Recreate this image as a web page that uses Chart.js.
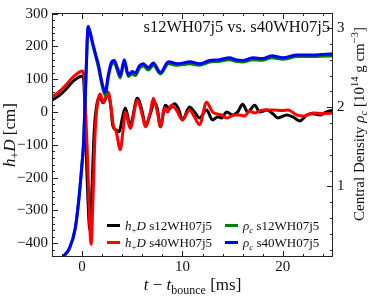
<!DOCTYPE html>
<html><head><meta charset="utf-8">
<script src="https://cdn.jsdelivr.net/npm/chart.js@4.4.1/dist/chart.umd.min.js"></script>
<style>html,body{margin:0;padding:0;background:#fff;overflow:hidden}</style>
</head><body>
<canvas id="c" width="374" height="299"></canvas>
<script>
// ---- data ----
const xTicks = [0, 10, 20];
const leftTicks = [-400, -300, -200, -100, 0, 100, 200, 300];
const rightTicks = [1, 2, 3];

const tBlack = [-3,-2.5,-2,-1.5,-1,-0.5,0,0.15,0.3,0.5,0.77,1.0,1.2,1.45,1.75,2.1,2.6,2.85,3.05,3.4,3.7,4.0,4.3,4.8,5.5,6.0,6.3,6.8,7.2,7.5,7.8,8.3,8.7,9.2,9.6,10.0,10.7,11.2,11.7,12.4,13.0,13.5,13.9,14.4,15.0,15.5,16.0,16.5,17.2,17.7,18.4,19.0,19.5,20.4,21.0,21.7,22.4,23.0,23.7,24.3,25];
const hS12   = [36,46,58,73,91,103,110,100,-10,-200,-358,-220,-60,20,45,28,55,20,-40,-55,-60,-20,12,-40,42,0,-42,-5,28,10,-45,21,10,25,10,-24,15,0,-18,6,-24,-15,-18,0,-9,0,24,0,21,0,6,-5,-18,-9,-15,-27,-9,-5,-9,0,6];

const tRed = [-3,-2.5,-2,-1.5,-1,-0.5,0,0.15,0.3,0.5,0.9,1.1,1.3,1.55,1.8,2.1,2.6,2.9,3.1,3.4,3.8,4.1,4.3,4.8,5.5,6.0,6.3,6.8,7.1,7.5,7.8,8.2,8.5,8.9,9.4,10.0,10.7,11.2,11.7,12.4,13.0,13.5,13.9,14.4,15.2,15.7,16.2,16.7,17.2,18.0,19.0,20.0,20.5,21.4,22.0,23.0,24.0,25];
const hS40 = [46,57,70,86,104,117,125,118,40,-110,-403,-250,-60,30,55,30,60,10,-40,-60,-115,-50,0,-50,36,-10,-45,0,42,0,-45,12,0,21,6,-24,6,-15,-39,30,0,-6,-9,-18,-9,-9,-12,3,-3,6,6,5,6,-9,-12,-3,-5,-3];

const tBlue = [-3,-2.6,-2.2,-1.8,-1.3,-0.7,-0.3,0,0.15,0.4,0.6,0.8,1.0,1.3,1.6,2.0,2.3,2.6,2.9,3.2,3.5,3.8,4.2,4.6,5.0,5.3,5.7,6.1,6.6,7.1,7.8,8.6,9.5,10.1,10.7,11.7,12.7,13.7,14.7,15.3,16,17,18,18.9,20,21.4,23,25];
const rhoS40 = [-0.1,-0.05,0.03,0.125,0.21,0.46,0.87,1.3,1.56,2.45,3.02,2.95,2.84,2.69,2.55,2.3,2.19,2.4,2.56,2.59,2.5,2.4,2.6,2.41,2.45,2.43,2.52,2.55,2.5,2.56,2.44,2.575,2.55,2.56,2.575,2.55,2.59,2.6,2.625,2.6,2.59,2.625,2.615,2.65,2.625,2.66,2.66,2.675];

const tGreen = tBlue;
const rhoS12 = [-0.1,-0.05,0.03,0.125,0.21,0.46,0.87,1.3,1.56,2.44,3.0,2.93,2.82,2.67,2.52,2.27,2.15,2.37,2.53,2.56,2.47,2.37,2.57,2.39,2.42,2.40,2.49,2.52,2.47,2.53,2.42,2.55,2.53,2.54,2.55,2.53,2.57,2.58,2.60,2.58,2.57,2.60,2.595,2.625,2.605,2.64,2.64,2.65];

// ---- helpers ----
const fam = "'Liberation Serif','Times New Roman',serif";
const pts = (ts, vs) => ts.map((t, i) => ({x: t, y: vs[i]}));
const fmt = v => (v < 0 ? '\u2212' + Math.abs(v) : String(v));

function drawRich(ctx, parts, x, y, align) {
  const f = p => (p.i ? 'italic ' : '') + p.s + 'px ' + fam;
  let w = 0;
  for (const p of parts) { ctx.font = f(p); w += ctx.measureText(p.t).width; }
  let cx = align === 'center' ? x - w / 2 : align === 'right' ? x - w : x;
  for (const p of parts) {
    ctx.font = f(p);
    ctx.fillText(p.t, cx, y + (p.dy || 0));
    cx += ctx.measureText(p.t).width;
  }
}

const decor = {
  id: 'decor',
  afterDraw(chart) {
    const {ctx, chartArea: a, scales} = chart;
    const sx = scales.x, yl = scales.yL, yr = scales.yR;
    ctx.save();
    ctx.strokeStyle = '#222'; ctx.lineWidth = 1;
    ctx.strokeRect(a.left + 0.5, a.top + 0.5, a.right - a.left - 1, a.bottom - a.top - 1);
    ctx.beginPath();
    const maj = 6, mn = 3;
    for (let v = -2; v <= 24; v += 2) {
      const p = Math.round(sx.getPixelForValue(v)) + 0.5;
      const L = (v % 10 === 0) ? maj : mn;
      ctx.moveTo(p, a.bottom); ctx.lineTo(p, a.bottom - L);
      ctx.moveTo(p, a.top); ctx.lineTo(p, a.top + L);
    }
    for (let v = -440; v <= 300; v += 20) {
      const p = Math.round(yl.getPixelForValue(v)) + 0.5;
      const L = (v % 100 === 0) ? maj : mn;
      ctx.moveTo(a.left, p); ctx.lineTo(a.left + L, p);
    }
    for (let k = 1; k <= 15; k++) {
      const v = k * 0.2;
      const p = Math.round(yr.getPixelForValue(v)) + 0.5;
      const L = (k % 5 === 0) ? maj : mn;
      ctx.moveTo(a.right, p); ctx.lineTo(a.right - L, p);
    }
    ctx.stroke();

    ctx.fillStyle = '#111';
    ctx.textBaseline = 'alphabetic';
    drawRich(ctx, [{t: 's12WH07j5 vs. s40WH07j5', s: 16.5}], a.right - 3, 32, 'right');
    drawRich(ctx, [
      {t: 't', s: 17, i: 1}, {t: ' \u2212 ', s: 17}, {t: 't', s: 17, i: 1},
      {t: 'bounce', s: 12, dy: 4}, {t: ' [ms]', s: 17}
    ], (a.left + a.right) / 2, 290, 'center');
    ctx.save();
    ctx.translate(15, (a.top + a.bottom) / 2);
    ctx.rotate(-Math.PI / 2);
    drawRich(ctx, [
      {t: 'h', s: 17, i: 1}, {t: '+', s: 12, dy: 4}, {t: 'D', s: 17, i: 1}, {t: ' [cm]', s: 17}
    ], 0, 0, 'center');
    ctx.restore();
    ctx.save();
    ctx.translate(364, 124);
    ctx.rotate(-Math.PI / 2);
    drawRich(ctx, [
      {t: 'Central Density ', s: 15}, {t: '\u03c1', s: 15, i: 1}, {t: 'c', s: 10.5, i: 1, dy: 3},
      {t: ' [10', s: 15}, {t: '14', s: 10.5, dy: -6}, {t: ' g cm', s: 15}, {t: '\u22123', s: 10.5, dy: -6}, {t: ']', s: 15}
    ], 0, 0, 'center');
    ctx.restore();
    const rows = [225.5, 242.5];
    const items = [
      {c: '#000000', x: 107, row: 0, parts: [{t: 'h', s: 13, i: 1}, {t: '+', s: 9, dy: 3}, {t: 'D', s: 13, i: 1}, {t: ' s12WH07j5', s: 13}]},
      {c: '#ff0000', x: 107, row: 1, parts: [{t: 'h', s: 13, i: 1}, {t: '+', s: 9, dy: 3}, {t: 'D', s: 13, i: 1}, {t: ' s40WH07j5', s: 13}]},
      {c: '#008000', x: 225, row: 0, parts: [{t: '\u03c1', s: 13, i: 1}, {t: 'c', s: 9, i: 1, dy: 3}, {t: ' s12WH07j5', s: 13}]},
      {c: '#0000ff', x: 225, row: 1, parts: [{t: '\u03c1', s: 13, i: 1}, {t: 'c', s: 9, i: 1, dy: 3}, {t: ' s40WH07j5', s: 13}]}
    ];
    for (const it of items) {
      const y = rows[it.row];
      ctx.strokeStyle = it.c; ctx.lineWidth = 3;
      ctx.beginPath(); ctx.moveTo(it.x, y); ctx.lineTo(it.x + 13, y); ctx.stroke();
      ctx.fillStyle = '#111';
      drawRich(ctx, it.parts, it.x + 18, y + 4.5, 'left');
    }
    ctx.restore();
  }
};

const tickFont = {family: fam, size: 15};
new Chart(document.getElementById('c'), {
  type: 'line',
  data: {datasets: [
    {data: pts(tBlue, rhoS40), yAxisID: 'yR', borderColor: '#0000ff'},
    {data: pts(tGreen, rhoS12), yAxisID: 'yR', borderColor: '#008000'},
    {data: pts(tRed, hS40), yAxisID: 'yL', borderColor: '#ff0000'},
    {data: pts(tBlack, hS12), yAxisID: 'yL', borderColor: '#000000'}
  ]},
  options: {
    responsive: false, animation: false, events: [],
    layout: {padding: {top: 12, left: 0, right: 0, bottom: 0}},
    datasets: {line: {clip: 0}},
    elements: {point: {radius: 0}, line: {borderWidth: 3, cubicInterpolationMode: 'monotone', fill: false, borderJoinStyle: 'round', borderCapStyle: 'round'}},
    plugins: {legend: {display: false}, tooltip: {enabled: false}},
    scales: {
      x: {type: 'linear', min: -3, max: 25,
        afterBuildTicks: s => { s.ticks = xTicks.map(v => ({value: v})); },
        afterFit: s => { s.height = 42; },
        grid: {display: false, drawTicks: false}, border: {display: false},
        ticks: {font: tickFont, color: '#111', padding: 1, maxRotation: 0, callback: fmt}},
      yL: {type: 'linear', position: 'left', min: -442, max: 302,
        afterBuildTicks: s => { s.ticks = leftTicks.map(v => ({value: v})); },
        afterFit: s => { s.width = 52; },
        grid: {display: false, drawTicks: false}, border: {display: false},
        ticks: {font: tickFont, color: '#111', padding: 4, callback: fmt}},
      yR: {type: 'linear', position: 'right', min: 0.11, max: 3.19,
        afterBuildTicks: s => { s.ticks = rightTicks.map(v => ({value: v})); },
        afterFit: s => { s.width = 41; },
        grid: {display: false, drawTicks: false}, border: {display: false},
        ticks: {font: tickFont, color: '#111', padding: 4, callback: fmt}}
    }
  },
  plugins: [decor]
});
</script>
</body></html>
